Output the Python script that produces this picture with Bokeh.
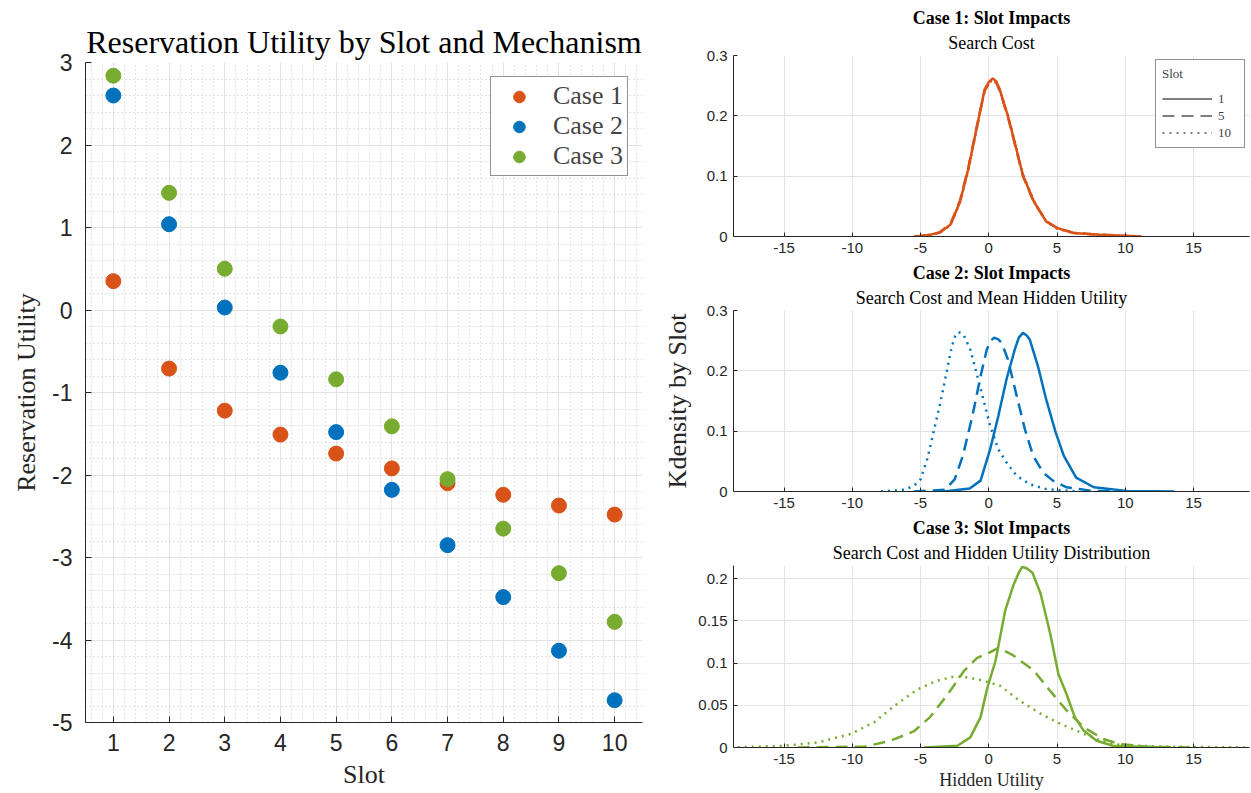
from bokeh.plotting import figure
from bokeh.models import (Legend, LegendItem, Title, FixedTicker, SingleIntervalTicker,
                          CustomJSTickFormatter, Range1d)
from bokeh.layouts import row, column
from bokeh.embed import file_html
from bokeh.resources import INLINE

# ---------------- data ----------------
slots = [1, 2, 3, 4, 5, 6, 7, 8, 9, 10]
case1_util = [0.35, -0.71, -1.22, -1.51, -1.74, -1.92, -2.10, -2.24, -2.37, -2.48]
case2_util = [2.60, 1.04, 0.03, -0.76, -1.48, -2.18, -2.85, -3.48, -4.13, -4.73]
case3_util = [2.84, 1.42, 0.50, -0.20, -0.84, -1.41, -2.05, -2.65, -3.19, -3.78]
case_names = ["Case 1", "Case 2", "Case 3"]

# Case 1 densities (slots 1, 5, 10 overlap)
c1_s1_x = [-5.4, -4.5, -3.6, -2.8, -2.1, -1.5, -0.9, -0.3, 0.0, 0.3, 0.55, 0.8, 1.4, 1.9, 2.5, 3.3, 4.2, 5.0, 6.2, 8.1, 11.2]
c1_s1_y = [0.0, 0.002, 0.006, 0.020, 0.058, 0.112, 0.178, 0.244, 0.256, 0.262, 0.257, 0.244, 0.200, 0.156, 0.102, 0.058, 0.025, 0.014, 0.006, 0.003, 0.0]
c1_s5_x = [-5.3, -4.5, -3.6, -2.8, -2.1, -1.5, -0.9, -0.3, 0.0, 0.3, 0.55, 0.8, 1.4, 1.9, 2.5, 3.3, 4.2, 5.0, 6.2, 8.1, 11.0]
c1_s5_y = [0.0, 0.002, 0.007, 0.021, 0.060, 0.114, 0.180, 0.242, 0.253, 0.258, 0.255, 0.242, 0.198, 0.154, 0.100, 0.057, 0.026, 0.014, 0.006, 0.003, 0.0]
c1_s10_x = [-5.5, -4.5, -3.6, -2.8, -2.1, -1.5, -0.9, -0.3, 0.0, 0.3, 0.55, 0.8, 1.4, 1.9, 2.5, 3.3, 4.2, 5.0, 6.2, 8.1, 11.3]
c1_s10_y = [0.0, 0.002, 0.006, 0.019, 0.057, 0.110, 0.176, 0.243, 0.254, 0.260, 0.256, 0.243, 0.201, 0.157, 0.103, 0.059, 0.025, 0.013, 0.006, 0.003, 0.0]

# Case 2 densities
c2_s1_x = [-3.3, -1.4, -0.6, 0.1, 0.7, 1.3, 1.9, 2.2, 2.5, 2.8, 3.0, 3.6, 4.2, 4.9, 5.5, 6.4, 7.7, 10.1, 13.6]
c2_s1_y = [0.0, 0.005, 0.018, 0.070, 0.125, 0.186, 0.235, 0.255, 0.263, 0.258, 0.252, 0.208, 0.153, 0.098, 0.059, 0.023, 0.007, 0.001, 0.0]
c2_s5_x = [-5.5, -3.2, -2.5, -1.9, -1.2, -0.6, -0.15, 0.15, 0.4, 0.7, 0.95, 1.4, 2.05, 2.65, 3.25, 4.0, 4.7, 5.7, 7.6, 10.0]
c2_s5_y = [0.0, 0.003, 0.020, 0.059, 0.125, 0.191, 0.235, 0.250, 0.255, 0.252, 0.246, 0.219, 0.158, 0.103, 0.059, 0.031, 0.018, 0.007, 0.001, 0.0]
c2_s10_x = [-7.9, -6.2, -5.5, -5.0, -4.5, -4.05, -3.55, -3.05, -2.7, -2.45, -2.25, -2.05, -1.85, -1.35, -0.9, -0.4, 0.1, 0.7, 1.3, 2.05, 3.0, 4.2, 6.5]
c2_s10_y = [0.0, 0.003, 0.009, 0.020, 0.054, 0.098, 0.147, 0.202, 0.241, 0.258, 0.264, 0.263, 0.260, 0.235, 0.197, 0.153, 0.109, 0.070, 0.048, 0.026, 0.012, 0.004, 0.0]

# Case 3 densities
c3_s1_x = [-4.75, -2.3, -1.35, -0.6, -0.1, 0.5, 1.2, 1.8, 2.2, 2.45, 2.8, 3.2, 3.8, 4.5, 5.1, 5.7, 6.3, 6.95, 7.9, 9.1, 11.6, 13.0]
c3_s1_y = [0.0, 0.002, 0.012, 0.036, 0.071, 0.103, 0.162, 0.192, 0.207, 0.214, 0.212, 0.207, 0.182, 0.135, 0.087, 0.063, 0.036, 0.020, 0.008, 0.002, 0.0005, 0.0]
c3_s5_x = [-14.0, -9.1, -7.2, -5.5, -4.3, -3.0, -1.8, -0.85, 0.0, 0.7, 1.8, 3.3, 4.5, 5.7, 6.95, 8.4, 9.6, 11.6, 14.8]
c3_s5_y = [0.0, 0.001, 0.008, 0.019, 0.036, 0.063, 0.091, 0.106, 0.112, 0.118, 0.109, 0.091, 0.067, 0.044, 0.024, 0.010, 0.004, 0.001, 0.0]
c3_s10_x = [-18.9, -15.0, -12.55, -10.1, -8.4, -6.7, -5.2, -3.8, -2.55, -1.6, -0.6, 0.85, 2.3, 3.8, 5.25, 6.7, 8.2, 9.6, 12.8, 19.1]
c3_s10_y = [0.0, 0.002, 0.006, 0.016, 0.030, 0.052, 0.069, 0.079, 0.084, 0.083, 0.080, 0.073, 0.055, 0.040, 0.028, 0.018, 0.008, 0.003, 0.001, 0.0]

density_xticks = [-15, -10, -5, 0, 5, 10, 15]
density_yticks_a = [0, 0.1, 0.2, 0.3]
density_yticks_b = [0, 0.05, 0.1, 0.15, 0.2]
slot_labels = ["1", "5", "10"]

# ---------------- style ----------------
SERIF = "Liberation Serif"
SANS = "Liberation Sans"
AXC = "#262626"
COLORS = ["#D95319", "#0072BD", "#77AC30"]
DASHES = ["solid", "12 7", "2 5"]
GRID = "#e3e3e3"
PLAIN = CustomJSTickFormatter(code="return tick.toString();")

# ---------------- left figure ----------------
p = figure(width=650, height=792, output_backend="svg", toolbar_location=None,
           x_range=Range1d(0.5, 10.5), y_range=Range1d(-5, 3),
           min_border_left=85, min_border_right=8, min_border_top=62, min_border_bottom=70)
p.title.text = "Reservation Utility by Slot and Mechanism"
p.title.text_font = SERIF
p.title.text_font_size = "32px"
p.title.text_font_style = "normal"
p.title.text_color = "black"
p.title.align = "center"
p.title.standoff = 6
p.outline_line_color = None

for vals, name, col in zip([case1_util, case2_util, case3_util], case_names, COLORS):
    p.scatter(slots, vals, size=15, color=col, line_color=col, legend_label=name)

p.xaxis.ticker = SingleIntervalTicker(interval=1, num_minor_ticks=5)
p.yaxis.ticker = SingleIntervalTicker(interval=1, num_minor_ticks=5)
for ax in (p.xaxis[0], p.yaxis[0]):
    ax.formatter = PLAIN
    ax.axis_line_color = AXC
    ax.major_tick_line_color = AXC
    ax.major_tick_in = 6
    ax.major_tick_out = 0
    ax.minor_tick_line_color = None
    ax.major_label_text_font = SANS
    ax.major_label_text_font_size = "23px"
    ax.major_label_text_color = AXC
    ax.axis_label_text_font = SERIF
    ax.axis_label_text_font_size = "26px"
    ax.axis_label_text_font_style = "normal"
    ax.axis_label_text_color = AXC
p.xaxis.axis_label = "Slot"
p.yaxis.axis_label = "Reservation Utility"
p.xaxis.major_label_standoff = 7
p.xaxis.axis_label_standoff = 6
p.yaxis.major_label_standoff = 9
p.yaxis.axis_label_standoff = 8
for g in (p.xgrid[0], p.ygrid[0]):
    g.grid_line_color = GRID
    g.minor_grid_line_color = "#c8c8c8"
    g.minor_grid_line_dash = "1 3"

leg = p.legend[0]
leg.location = "top_right"
leg.margin = 14
leg.label_text_font = SERIF
leg.label_text_font_size = "26px"
leg.glyph_width = 48
leg.glyph_height = 29
leg.label_height = 29
leg.spacing = 0
leg.padding = 4
leg.label_standoff = 10
leg.border_line_color = AXC
leg.border_line_width = 1
leg.background_fill_alpha = 1.0

# ---------------- right figures ----------------
def dens_fig(h, top, bottom, ymax, yticks, title, subtitle):
    f = figure(width=600, height=h, output_backend="svg", toolbar_location=None,
               x_range=Range1d(-18.7, 19.1), y_range=Range1d(0, ymax),
               title_location=None,
               min_border_left=83, min_border_right=1,
               min_border_top=top, min_border_bottom=bottom)
    f.outline_line_color = None
    f.add_layout(Title(text=subtitle, text_font=SERIF, text_font_size="18px",
                       text_font_style="normal", text_color="black", align="center",
                       standoff=6), "above")
    f.add_layout(Title(text=title, text_font=SERIF, text_font_size="18px",
                       text_font_style="bold", text_color="black", align="center",
                       standoff=0), "above")
    f.xaxis.ticker = FixedTicker(ticks=density_xticks)
    f.yaxis.ticker = FixedTicker(ticks=yticks)
    for ax in (f.xaxis[0], f.yaxis[0]):
        ax.formatter = PLAIN
        ax.axis_line_color = AXC
        ax.major_tick_line_color = AXC
        ax.major_tick_in = 4
        ax.major_tick_out = 0
        ax.minor_tick_line_color = None
        ax.major_label_text_font = SANS
        ax.major_label_text_font_size = "15px"
        ax.major_label_text_color = AXC
        ax.axis_label_text_font = SERIF
        ax.axis_label_text_font_style = "normal"
        ax.axis_label_text_color = AXC
    f.xaxis.major_label_standoff = 6
    f.yaxis.major_label_standoff = 6
    f.xgrid.grid_line_color = GRID
    f.ygrid.grid_line_color = GRID
    return f

f1 = dens_fig(260, 55, 24, 0.3, density_yticks_a, "Case 1: Slot Impacts", "Search Cost")
f2 = dens_fig(255, 50, 24, 0.3, density_yticks_a, "Case 2: Slot Impacts",
              "Search Cost and Mean Hidden Utility")
f3 = dens_fig(277, 50, 45, 0.2155, density_yticks_b, "Case 3: Slot Impacts",
              "Search Cost and Hidden Utility Distribution")

f2.yaxis.axis_label = "Kdensity by Slot"
f2.yaxis.axis_label_text_font_size = "26px"
f2.yaxis.axis_label_standoff = 12
f3.xaxis.axis_label = "Hidden Utility"
f3.xaxis.axis_label_text_font_size = "18px"
f3.xaxis.axis_label_standoff = 3

series = [
    (f1, COLORS[0], [(c1_s1_x, c1_s1_y), (c1_s5_x, c1_s5_y), (c1_s10_x, c1_s10_y)]),
    (f2, COLORS[1], [(c2_s1_x, c2_s1_y), (c2_s5_x, c2_s5_y), (c2_s10_x, c2_s10_y)]),
    (f3, COLORS[2], [(c3_s1_x, c3_s1_y), (c3_s5_x, c3_s5_y), (c3_s10_x, c3_s10_y)]),
]
for f, col, curves in series:
    for (xs, ys), dash in zip(curves, DASHES):
        f.line(xs, ys, line_color=col, line_width=2.5, line_dash=dash)

# legend for slots (gray samples; proxy renderers hold no visible data)
nan = float("nan")
items = []
for lab, dash in zip(slot_labels, DASHES):
    r = f1.line([nan, nan], [nan, nan], line_color="#7f7f7f", line_width=2, line_dash=dash)
    items.append(LegendItem(label=lab, renderers=[r]))
sleg = Legend(items=items, title="Slot", location="top_right")
sleg.margin = 4
sleg.padding = 6
sleg.spacing = 0
sleg.glyph_width = 50
sleg.glyph_height = 17
sleg.label_height = 17
sleg.label_standoff = 6
sleg.label_text_font = SERIF
sleg.label_text_font_size = "13px"
sleg.title_text_font = SERIF
sleg.title_text_font_size = "13px"
sleg.title_text_font_style = "normal"
sleg.title_standoff = 8
sleg.border_line_color = AXC
sleg.border_line_width = 1
sleg.background_fill_alpha = 1.0
f1.add_layout(sleg)

layout = row(p, column(f1, f2, f3))
open("out.html", "w").write(file_html(layout, INLINE))
